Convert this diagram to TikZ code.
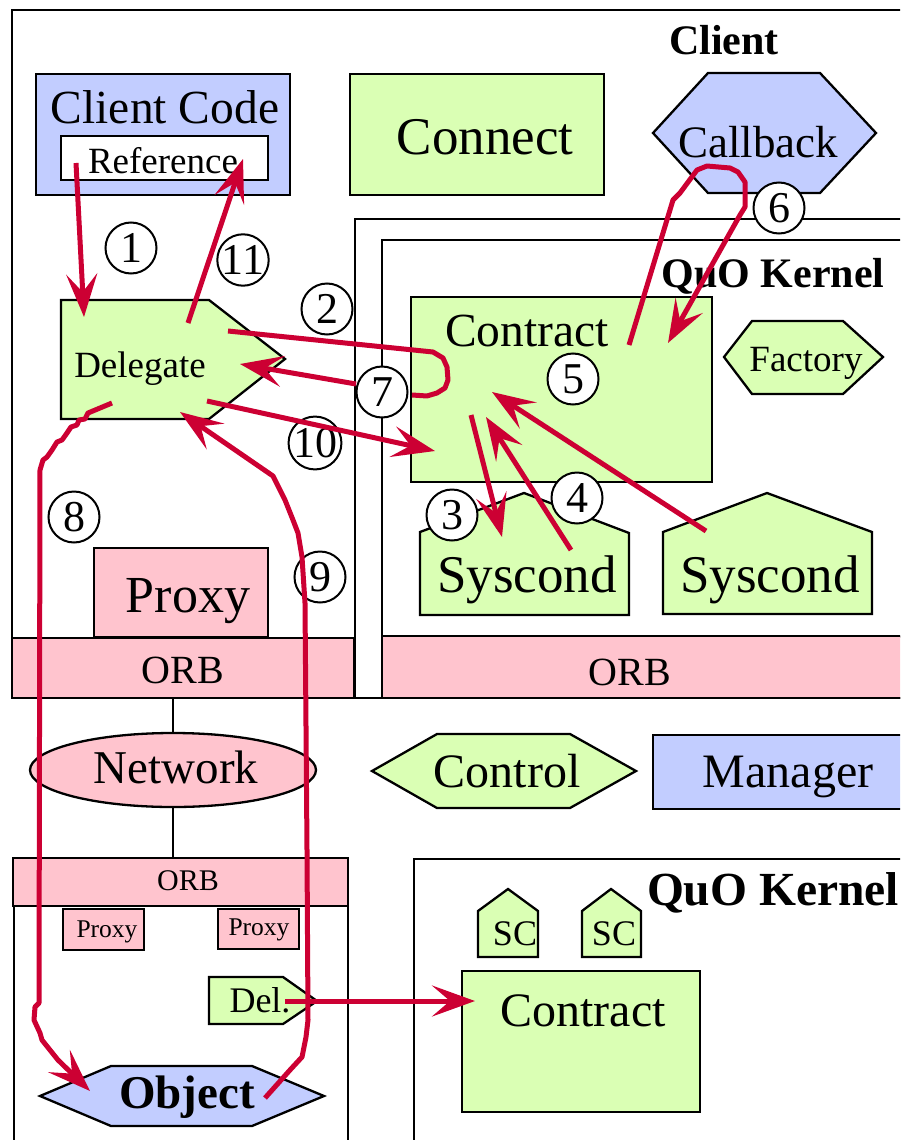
\documentclass[tikz,border=0pt]{standalone}
\usepackage{fontspec}
\setmainfont{Liberation Serif}
\usetikzlibrary{arrows.meta,shapes.geometric}
\definecolor{lgreen}{RGB}{218,255,180}
\definecolor{lblue}{RGB}{194,205,255}
\definecolor{lpink}{RGB}{255,196,206}
\definecolor{flow}{RGB}{204,0,51}
\newcommand\txtsize[1]{\fontsize{#1}{#1}\selectfont}

\begin{document}
\begin{tikzpicture}[x=1pt,y=-1pt,
  outline/.style={draw=black,line width=2.3pt},
  rect/.style={outline,rectangle,inner sep=0pt,anchor=north west},
  lbl/.style={anchor=base,inner sep=0pt},
  num/.style={circle,draw=black,line width=2pt,fill=white,minimum size=51pt,
              inner sep=0pt,font=\txtsize{44}},
  flowline/.style={draw=flow,line width=5pt,line join=round},
  flowarrow/.style={flowline,-{Stealth[length=43pt,width=31pt,inset=18pt]}}]
\useasboundingbox (0,0) rectangle (900,1140);
\clip (0,0) rectangle (900,1140);

% ---------------- client host ----------------
\node[rect,minimum width=940pt,minimum height=688pt] (client) at (11,9) {};
\node[rect,minimum width=580pt,minimum height=479pt] (mid) at (354,218) {};
\node[rect,minimum width=560pt,minimum height=397pt] (kernel) at (381,239) {};
\node[rect,fill=lpink,minimum width=560pt,minimum height=62pt] (orbR) at (381,635) {};
\node[rect,fill=lpink,minimum width=342pt,minimum height=60pt] (orbL) at (11,637) {};

\node[lbl,font=\txtsize{42}\bfseries] (clientlbl) at (724,55) {Client};
\node[lbl,font=\txtsize{42}\bfseries] (kernellbl) at (773,287) {QuO Kernel};

% client code with its reference
\node[rect,fill=lblue,minimum width=254pt,minimum height=121pt] (cc) at (35,73) {};
\node[lbl,font=\txtsize{47.5}] (cclbl) at (165,123) {Client Code};
\node[rect,fill=white,minimum width=207pt,minimum height=44pt] (ref) at (60,135) {};
\node[lbl,font=\txtsize{37}] (reflbl) at (163,173) {Reference};

% connect
\node[rect,fill=lgreen,minimum width=254pt,minimum height=121pt] (conn) at (349,73) {};
\node[lbl,font=\txtsize{53}] (connlbl) at (485,154) {Connect};

% callback
\draw[outline,fill=lblue] (653,133) -- (708,73) -- (820,73) -- (876,133)
      -- (820,193) -- (708,193) -- cycle;
\node[lbl,font=\txtsize{45}] (cb) at (758,157) {Callback};

% delegate
\draw[outline,fill=lgreen] (61,300) -- (209,300) -- (285,359) -- (209,419)
      -- (61,419) -- cycle;
\node[lbl,font=\txtsize{37}] (dlg) at (140,377) {Delegate};

% contract
\node[rect,fill=lgreen,minimum width=301pt,minimum height=185pt] (ctr) at (410,296) {};
\node[lbl,font=\txtsize{47.5}] (ctrlbl) at (527,346) {Contract};

% factory
\draw[outline,fill=lgreen] (724,357) -- (752,321) -- (843,321) -- (883,357)
      -- (843,394) -- (752,394) -- cycle;
\node[lbl,font=\txtsize{37}] (fac) at (806,371) {Factory};

% system condition objects
\draw[outline,fill=lgreen] (420,615) -- (420,532) -- (524,493) -- (629,533)
      -- (629,615) -- cycle;
\node[lbl,font=\txtsize{53}] (sys1) at (527,592) {Syscond};
\draw[outline,fill=lgreen] (663,614) -- (663,532) -- (767,493) -- (872,532)
      -- (872,614) -- cycle;
\node[lbl,font=\txtsize{53}] (sys2) at (770,592) {Syscond};

% proxy and ORBs
\node[rect,fill=lpink,minimum width=174pt,minimum height=89pt] (prx) at (93,547) {};
\node[lbl,font=\txtsize{52}] (prxlbl) at (188,612) {Proxy};
\node[lbl,font=\txtsize{40}] (orbLlbl) at (183,683) {ORB};
\node[lbl,font=\txtsize{40}] (orbRlbl) at (630,685) {ORB};

% ---------------- network ----------------
\node[ellipse,outline,fill=lpink,minimum width=286pt,minimum height=74pt,
      inner sep=0pt] (net) at (173,770) {};
\node[lbl,font=\txtsize{47}] (netlbl) at (176,783) {Network};

\draw[outline,fill=lgreen] (372,771) -- (437,734) -- (570,734) -- (636,771)
      -- (570,808) -- (437,808) -- cycle;
\node[lbl,font=\txtsize{48}] (ctl) at (507,787) {Control};
\node[rect,fill=lblue,minimum width=300pt,minimum height=74pt] (mgr) at (652,734) {};
\node[lbl,font=\txtsize{48}] (mgrlbl) at (788,787) {Manager};

% ---------------- server host ----------------
\node[rect,minimum width=334pt,minimum height=260pt] (srv) at (13,905) {};
\node[rect,fill=lpink,minimum width=335pt,minimum height=48pt] (orbB) at (12,857) {};
\node[lbl,font=\txtsize{30}] (orbBlbl) at (188,890) {ORB};

\draw[outline] (net.north) -- (net.north |- orbL.south);
\draw[outline] (net.south) -- (net.south |- orbB.north);

\node[rect,fill=lpink,minimum width=81pt,minimum height=41pt] (p1) at (62,908) {};
\node[lbl,font=\txtsize{25.5}] (p1lbl) at (107,937) {Proxy};
\node[rect,fill=lpink,minimum width=81pt,minimum height=40pt] (p2) at (217,908) {};
\node[lbl,font=\txtsize{25.5}] (p2lbl) at (259,935) {Proxy};

\draw[outline,fill=lgreen] (209,977) -- (283,977) -- (317,1001) -- (283,1024)
      -- (209,1024) -- cycle;
\node[lbl,font=\txtsize{36}] (del) at (260,1012) {Del.};

\draw[outline,fill=lblue] (40,1096) -- (111,1066) -- (252,1066) -- (324,1096)
      -- (252,1126) -- (111,1126) -- cycle;
\node[lbl,font=\txtsize{47}\bfseries] (obj) at (187,1108) {Object};

% server-side kernel
\node[rect,minimum width=520pt,minimum height=320pt] (kernel2) at (413,858) {};
\node[lbl,font=\txtsize{47.5}\bfseries] (kernel2lbl) at (773,905) {QuO Kernel};
\draw[outline,fill=lgreen] (478,957) -- (478,911) -- (508,889) -- (538,911)
      -- (538,957) -- cycle;
\node[lbl,font=\txtsize{36}] (sc1) at (515,945) {SC};
\draw[outline,fill=lgreen] (582,957) -- (582,911) -- (611,889) -- (641,911)
      -- (641,957) -- cycle;
\node[lbl,font=\txtsize{36}] (sc2) at (614,945) {SC};
\node[rect,fill=lgreen,minimum width=238pt,minimum height=141pt] (ctr2) at (461,970) {};
\node[lbl,font=\txtsize{48}] (ctr2lbl) at (583,1026) {Contract};

% ---------------- step numbers ----------------
\node[num] (n1) at (131,248) {1};
\node[num] (n2) at (327,309) {2};
\node[num] (n3) at (452,515) {3};
\node[num] (n4) at (577,498) {4};
\node[num] (n5) at (573,379) {5};
\node[num] (n6) at (779,208) {6};
\node[num] (n7) at (382,392) {7};
\node[num] (n8) at (74,517) {8};
\node[num] (n9) at (320,577) {9};
\node[num] (n10) at (315,443) {10};
\node[num] (n11) at (243,260) {11};

% ---------------- invocation path ----------------
\coordinate (refout) at (76,163);
\coordinate (refin)  at (243,159);
\coordinate (dlgin1) at (84,317);
\coordinate (dlgout11) at (188,323);
\coordinate (dlgout2) at (228,331);
\coordinate (dlgin7) at (240,364);
\coordinate (dlgout10) at (207,401);
\coordinate (dlgout8) at (112,403);
\coordinate (dlgin9) at (180,412);
\coordinate (ctrin2) at (412,395);
\coordinate (ctrout7) at (356,384);
\coordinate (ctrin10) at (435,451);
\coordinate (ctrout3) at (471,415);
\coordinate (ctrin4) at (486,417);
\coordinate (ctrin5) at (492,392);
\coordinate (ctrout6) at (629,345);
\coordinate (ctrin6) at (668,343);
\coordinate (sysin3) at (502,537);
\coordinate (sysout4) at (571,550);
\coordinate (sys2out) at (706,531);
\coordinate (objin) at (90,1091);
\coordinate (objout) at (265,1098);
\coordinate (delout) at (285,1001);
\coordinate (ctr2in) at (475,1001);

\draw[flowarrow] (refout) -- (dlgin1);
\draw[flowarrow] (dlgout11) -- (refin);
\draw[flowline] (dlgout2) -- (433,352) -- (443,358) -- (447,367) -- (448,380)
      -- (445,388) -- (437,393) -- (427,396) -- (ctrin2);
\draw[flowarrow] (ctrout3) -- (sysin3);
\draw[flowarrow] (sysout4) -- (ctrin4);
\draw[flowarrow] (sys2out) -- (ctrin5);
\draw[flowarrow] (ctrout6) -- (673,200) -- (680,193) -- (697,170) -- (707,166)
      -- (730,168) -- (738,172) -- (745,182) -- (745,207) -- (740,215) -- (ctrin6);
\draw[flowarrow] (ctrout7) -- (dlgin7);
\draw[flowarrow] (dlgout8) -- (88,413) -- (85,419) -- (79,420) -- (77,425)
      -- (71,427) -- (67,433) -- (62,440) -- (57,442) -- (52,450) -- (47,457)
      -- (43,460) -- (40,470) -- (39,1003) -- (35,1007) -- (34,1020) -- (40,1033)
      -- (42,1040) -- (58,1060) -- (objin);
\draw[flowarrow] (objout) -- (290,1070) -- (302,1057) -- (306,1037) -- (308,1020)
      -- (307,850) -- (305,603) -- (302,557) -- (298,533) -- (293,520)
      -- (285,500) -- (273,476) -- (dlgin9);
\draw[flowarrow] (dlgout10) -- (ctrin10);
\draw[flowarrow] (delout) -- (ctr2in);
\end{tikzpicture}
\end{document}
